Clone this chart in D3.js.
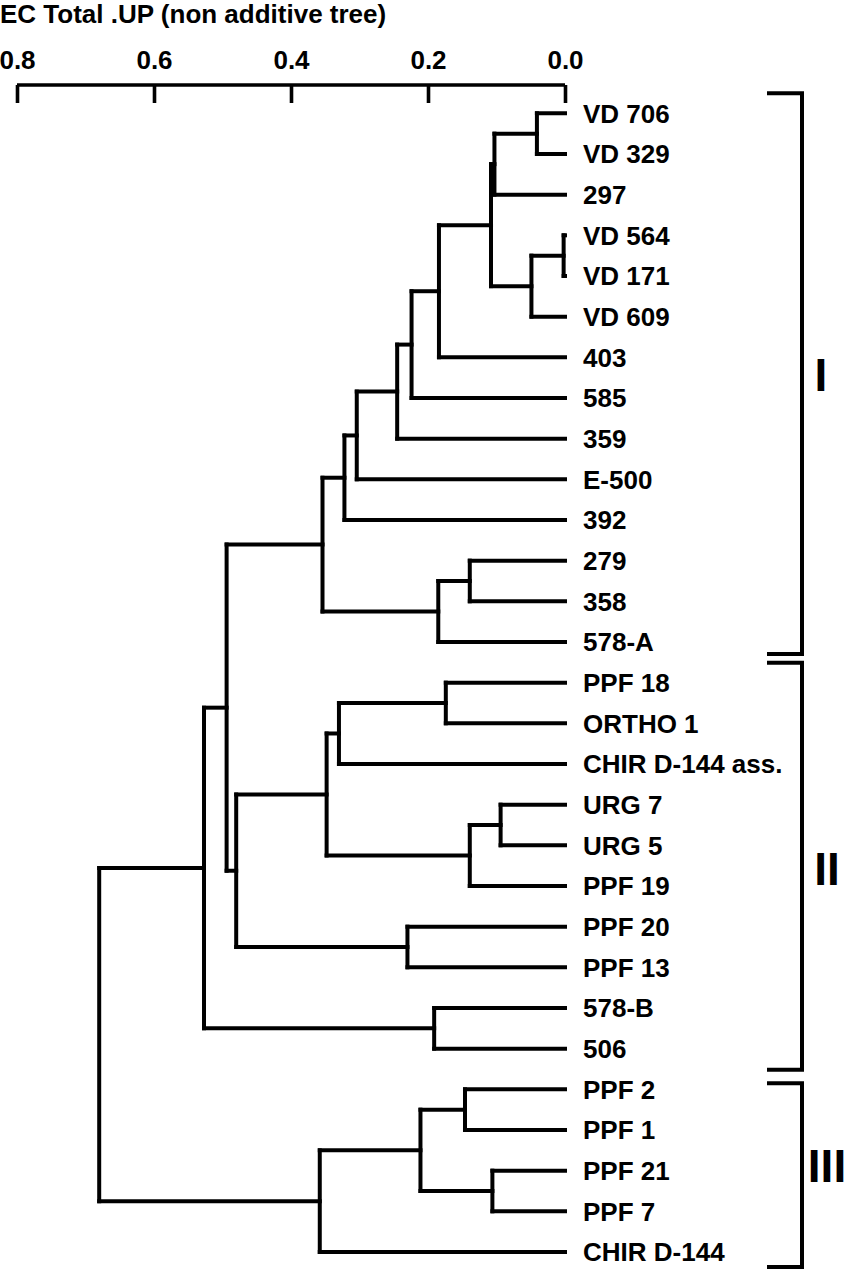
<!DOCTYPE html>
<html>
<head>
<meta charset="utf-8">
<script src="https://cdn.jsdelivr.net/npm/d3@7"></script>
<style>
  html, body { margin: 0; padding: 0; background: #fff; }
  svg { display: block; }
  text { font-family: "Liberation Sans", Arial, Helvetica, sans-serif; font-weight: bold; fill: #000; }
</style>
</head>
<body>
<svg id="chart" width="850" height="1270"></svg>
<script>
// ---------------- DATA ----------------
const title = "EC Total .UP (non additive tree)";
const tickValues = [0.8, 0.6, 0.4, 0.2, 0.0];
const tickLabels = ["0.8", "0.6", "0.4", "0.2", "0.0"];

const leaves = ["VD 706", "VD 329", "297", "VD 564", "VD 171", "VD 609", "403", "585",
  "359", "E-500", "392", "279", "358", "578-A", "PPF 18", "ORTHO 1", "CHIR D-144 ass.",
  "URG 7", "URG 5", "PPF 19", "PPF 20", "PPF 13", "578-B", "506", "PPF 2", "PPF 1",
  "PPF 21", "PPF 7", "CHIR D-144"];

// internal nodes: id, children, height (distance)
const nodeIds = ["n1","n2","n3","n4","n5","n6","n7","n8","n9","n10","n11","n12","n13","n14",
  "n15","n16","n17","n18","n19","n20","n21","n22","n23","n24","n25","n26","n27","root"];
const nodeChildren = [
  ["VD 706","VD 329"], ["n1","297"], ["VD 564","VD 171"], ["n3","VD 609"], ["n2","n4"],
  ["n5","403"], ["n6","585"], ["n7","359"], ["n8","E-500"], ["n9","392"],
  ["279","358"], ["n11","578-A"], ["n10","n12"], ["PPF 18","ORTHO 1"], ["n14","CHIR D-144 ass."],
  ["URG 7","URG 5"], ["n16","PPF 19"], ["n15","n17"], ["PPF 20","PPF 13"], ["n18","n19"],
  ["n13","n20"], ["578-B","506"], ["n21","n22"], ["PPF 2","PPF 1"], ["PPF 21","PPF 7"],
  ["n24","n25"], ["n26","CHIR D-144"], ["n23","n27"]];
const nodeHeights = [0.041, 0.103, 0.002, 0.049, 0.108, 0.184, 0.224, 0.245, 0.304, 0.322,
  0.139, 0.185, 0.354, 0.174, 0.330, 0.094, 0.139, 0.348, 0.230, 0.480,
  0.494, 0.191, 0.527, 0.146, 0.106, 0.211, 0.358, 0.680];

const clusterNames = ["I", "II", "III"];
const clusterFirst = ["VD 706", "PPF 18", "PPF 2"];
const clusterLast = ["578-A", "506", "CHIR D-144"];

// ---------------- LAYOUT ----------------
const svg = d3.select("#chart");
const x = d3.scaleLinear().domain([0.8, 0]).range([17, 565]);
const y = d3.scalePoint().domain(leaves).range([113.3, 1252]);

// build node table
const nodes = new Map();
leaves.forEach(l => nodes.set(l, { id: l, h: 0, children: null }));
nodeIds.forEach((id, i) => nodes.set(id, { id, h: nodeHeights[i], children: nodeChildren[i] }));
function yOf(id) {
  const n = nodes.get(id);
  if (n.yv !== undefined) return n.yv;
  if (!n.children) n.yv = y(id);
  else {
    const ys = n.children.map(yOf);
    n.yv = (d3.min(ys) + d3.max(ys)) / 2;
  }
  return n.yv;
}
yOf("root");

// Title
svg.append("text").attr("x", 0).attr("y", 23).attr("font-size", 26).text(title);

// Axis
const axisG = svg.append("g").attr("transform", "translate(0,85)");
const axis = d3.axisBottom(x).tickValues(tickValues).tickSize(18).tickSizeOuter(0)
  .tickFormat((d, i) => tickLabels[i]);
axisG.call(axis);
axisG.select(".domain").attr("stroke", "#000").attr("stroke-width", 3.6)
  .attr("d", `M${x(0.8)},0H${x(0)}`);
axisG.selectAll(".tick line").attr("stroke", "#000").attr("stroke-width", 3.6);
axisG.selectAll(".tick text").attr("y", -16).attr("dy", 0).attr("font-size", 26)
  .attr("font-family", "Liberation Sans, Arial, sans-serif").attr("font-weight", "bold")
  .attr("fill", "#000");

// Tree branches
const treeG = svg.append("g").attr("fill", "none").attr("stroke", "#000")
  .attr("stroke-width", 4).attr("stroke-linecap", "square");
nodeIds.forEach(id => {
  const n = nodes.get(id);
  const xs = x(n.h);
  const ys = n.children.map(yOf);
  treeG.append("path").attr("d", `M${xs},${d3.min(ys)}V${d3.max(ys)}`);
  n.children.forEach(c => {
    const cn = nodes.get(c);
    treeG.append("path").attr("d", `M${xs},${yOf(c)}H${x(cn.h)}`);
  });
});

// Leaf labels
svg.append("g").selectAll("text").data(leaves).join("text")
  .attr("x", x(0) + 18).attr("y", d => y(d)).attr("dy", "0.36em")
  .attr("font-size", 26).text(d => d);

// Cluster brackets
const bracketPad = [[20, 12], [20, 21], [6, 15]];
const numeralOffset = [17, 19, 7];
const numeralX = [821, 827, 827];
const bx = 802, bLeft = 767;
const brG = svg.append("g");
clusterNames.forEach((name, i) => {
  const top = y(clusterFirst[i]) - bracketPad[i][0];
  const bot = y(clusterLast[i]) + bracketPad[i][1];
  brG.append("path").attr("fill", "none").attr("stroke", "#000").attr("stroke-width", 4)
    .attr("d", `M${bLeft},${top}H${bx}V${bot}H${bLeft}`);
  brG.append("text").attr("x", numeralX[i]).attr("y", (top + bot) / 2 + numeralOffset[i])
    .attr("text-anchor", "middle").attr("font-size", 46).text(name);
});
</script>
</body>
</html>
